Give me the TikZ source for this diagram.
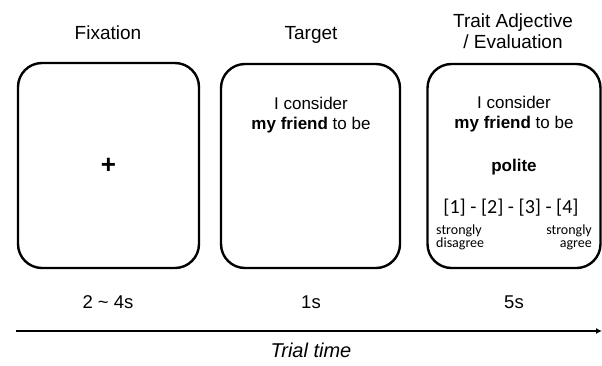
\documentclass[tikz,border=0pt]{standalone}
\usepackage{fontspec}
\setmainfont{Liberation Sans}
\newfontfamily\calibri{Carlito}
\usetikzlibrary{arrows.meta}
\tikzset{>={Latex[width=6pt,length=6pt]}}
\tikzset{
  screen/.style={draw, line width=2.4pt, rounded corners=24pt, inner sep=0pt},
  title/.style={anchor=base, font=\fontsize{19}{22}\selectfont, align=center},
  word/.style={anchor=base, font=\fontsize{17}{20}\selectfont},
  dur/.style={anchor=base, font=\fontsize{18.5}{22}\selectfont},
  anchorlabel/.style={anchor=base west, inner sep=0pt, font=\calibri\fontsize{14}{12}\selectfont, align=left}
}

\begin{document}
\begin{tikzpicture}[x=1pt, y=-1pt]

  \useasboundingbox (0,0) rectangle (602,365); %% page size

  %% the three screens
  \node[screen, minimum width=181pt, minimum height=205pt] (fix) at (108.5,165.5) {};
  \node[screen, minimum width=179pt, minimum height=204pt] (tgt) at (310.5,166) {};
  \node[screen, minimum width=173pt, minimum height=204pt] (eva) at (514,166) {};

  %% titles
  \node[title] (tfix) at (108,39) {Fixation};
  \node[title] (ttgt) at (311,39) {Target};
  \node[title] (teva1) at (513,27) {Trait Adjective};
  \node[title] (teva2) at (513,48) {/ Evaluation};

  %% screen contents
  \node[font=\fontsize{26}{26}\selectfont\bfseries] (plus) at (fix.center) {+};

  \node[word] (c1) at (311,109) {I consider};
  \node[word] (c2) at (311,129) {\textbf{my friend} to be};

  \node[word] (e1) at (514,108) {I consider};
  \node[word] (e2) at (514,128) {\textbf{my friend} to be};
  \node[word] (adj) at (514,171) {\textbf{polite}};
  \node[anchor=base, font=\calibri\fontsize{20}{22}\selectfont] (rate) at (511,213) {[1] - [2] - [3] - [4]};
  \node[anchorlabel] (lo1) at (436,234) {strongly};
  \node[anchorlabel] (lo2) at (436,247) {disagree};
  \node[anchorlabel, anchor=base east] (hi1) at (592,234) {strongly};
  \node[anchorlabel, anchor=base east] (hi2) at (592,247) {agree};

  %% durations
  \node[dur] (dfix) at (108,308) {2 \textasciitilde\ 4s};
  \node[dur] (dtgt) at (311,308) {1s};
  \node[dur] (deva) at (514,308) {5s};

  %% time axis
  \coordinate (t0) at (16,331);
  \coordinate (t1) at (602,331);
  \draw[->, line width=2pt] (t0) -- (t1);
  \node[anchor=base, font=\fontsize{20}{22}\selectfont\itshape] (axis) at (311,357) {Trial time};

\end{tikzpicture}
\end{document}
